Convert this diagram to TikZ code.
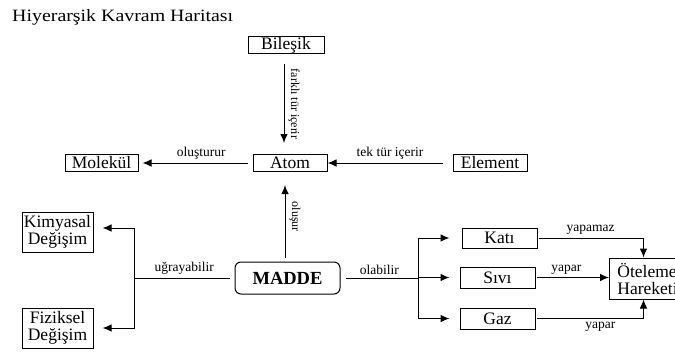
\documentclass[tikz,border=0pt]{standalone}
\usepackage{fontspec}
\setmainfont{Liberation Serif}
\newfontfamily\titlefont[FakeStretch=1.15]{Liberation Serif}
\usetikzlibrary{arrows.meta}
\tikzset{
  box/.style={draw, line width=1pt, inner sep=0pt, minimum width=74pt, minimum height=17pt,
    font=\fontsize{17.5}{17}\selectfont, align=center},
  line/.style={line width=1pt},
  arr/.style={line width=1pt, -{Latex[length=9pt,width=7.5pt]}},
  lbl/.style={font=\fontsize{13.5}{14}\selectfont, inner sep=3pt},
  rlbl/.style={font=\fontsize{12}{13}\selectfont, inner sep=4pt, rotate=-90, anchor=south},
}
\begin{document}
\begin{tikzpicture}[x=1pt,y=-1pt]
\useasboundingbox (0,0) rectangle (675,351);
\clip (0,0) rectangle (675,351);
\fill[white] (0,0) rectangle (675,351);

\node[anchor=base west, inner sep=0pt, font=\titlefont\fontsize{17.3}{18}\selectfont] (title) at (12,21) {Hiyerarşik Kavram Haritası};

\node[box, minimum width=76pt] (bilesik) at (286,45) {Bileşik};
\node[box] (atom) at (290,163) {Atom};
\node[box, minimum width=73pt] (molekul) at (101.5,163) {Molekül};
\node[box] (element) at (490,163) {Element};
\node[box, minimum width=71pt, minimum height=40pt] (kim) at (57.5,232) {Kimyasal\\Değişim};
\node[box, minimum width=71pt, minimum height=40pt] (fiz) at (57.5,328) {Fiziksel\\Değişim};
\node[box, rounded corners=6pt, minimum width=105pt, minimum height=32pt, font=\fontsize{18.5}{18}\selectfont\bfseries] (madde) at (287.5,278) {MADDE};
\node[box, minimum width=75pt, minimum height=20pt] (kati) at (499.5,238) {Katı};
\node[box, minimum width=75pt, minimum height=21pt] (sivi) at (497.5,277.5) {Sıvı};
\node[box, minimum width=75pt, minimum height=21pt] (gaz) at (497.5,318.5) {Gaz};
\node[box, anchor=west, minimum width=76pt, minimum height=41pt, align=left] (otel) at (609,278.5) {Öteleme\\Hareketi};

% Bilesik -> Atom
\draw[arr, shorten <=10pt, shorten >=11pt] ([xshift=-2pt]bilesik.south) -- ([xshift=-6pt]atom.north)
  node[rlbl, midway] {farklı tür içerir};
% Atom -> Molekul
\draw[arr, shorten <=5pt, shorten >=4pt] (atom.west) -- (molekul.east)
  node[lbl, pos=0.45, above] {oluşturur};
% Element -> Atom
\draw[arr, shorten <=10pt] (element.west) -- (atom.east)
  node[lbl, midway, above] {tek tür içerir};
% MADDE -> Atom
\draw[arr, shorten <=4pt, shorten >=13pt] ([xshift=-2.5pt]madde.north) -- ([xshift=-5pt]atom.south)
  node[rlbl, midway] {oluşur};

% MADDE -> Kimyasal / Fiziksel
\coordinate (bl) at (134,278);
\draw[line, shorten <=5pt] (madde.west) -- (bl) node[lbl, midway, above] {uğrayabilir};
\draw[arr, shorten >=9pt] (bl) |- ([yshift=4pt]kim.east);
\draw[arr, shorten >=9pt] (bl) |- (fiz.east);

% MADDE -> Kati / Sivi / Gaz
\coordinate (br) at (418,278);
\draw[line, shorten <=5pt] (madde.east) -- (br) node[lbl, midway, above] {olabilir};
\draw[arr, shorten >=12pt] (br) |- (kati.west);
\draw[arr, shorten >=10pt] (br) |- (sivi.west);
\draw[arr, shorten >=10pt] (br) |- (gaz.west);

% -> Oteleme Hareketi
\draw[arr, shorten <=1pt] (kati.east) -| ([xshift=-4pt]otel.north)
  node[lbl, pos=0.25, above] {yapamaz};
\draw[arr, shorten <=1pt] (sivi.east) -- (sivi.east -| otel.west)
  node[lbl, pos=0.42, above] {yapar};
\draw[arr, shorten <=1pt] (gaz.east) -| ([xshift=-4pt]otel.south)
  node[lbl, pos=0.3, below] {yapar};
\end{tikzpicture}
\end{document}
